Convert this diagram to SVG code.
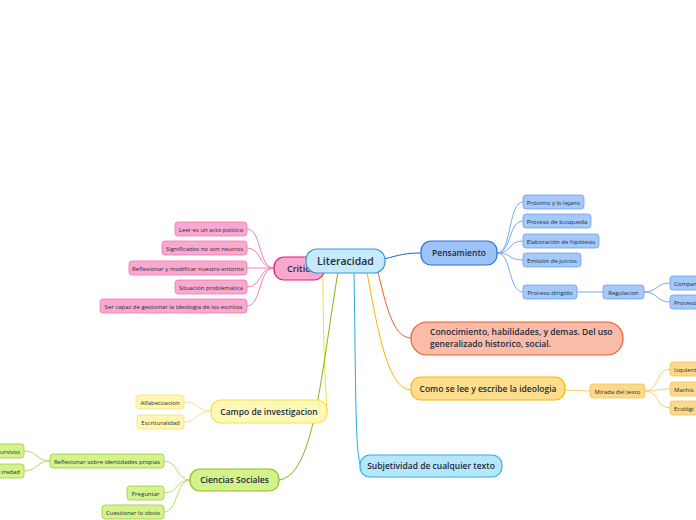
<svg xmlns="http://www.w3.org/2000/svg" width="696" height="520" viewBox="0 0 696 520">
<style>
text{font-family:"Open Sans","Noto Sans",sans-serif;fill:#1d2b3a}
.leaf{font-size:6px}
.mid{font-size:8.5px;font-weight:600}
.c{fill:none;stroke-width:1}
.pk{fill:#f9a9cf;stroke:#f07aaf;stroke-width:0.8}
.bl{fill:#a5c9f8;stroke:#6d9ff0;stroke-width:0.8}
.ye{fill:#fcd98a;stroke:#f4c35b;stroke-width:0.8}
.ly{fill:#fff6b3;stroke:#f2e27a;stroke-width:0.8}
.gr{fill:#d5f38c;stroke:#9ccc3a;stroke-width:0.8}
</style>
<rect width="696" height="520" fill="#ffffff"/>
<g id="connectors">
<path class="c" stroke="#1a5fc7" stroke-width="1.5" d="M384,259 C400,255 405,253 421,253"/>
<path class="c" stroke="#e8602c" stroke-width="1.5" d="M378,272 C388,315 395,338 412,338"/>
<path class="c" stroke="#f5b400" stroke-width="1.5" d="M367,272 C380,345 390,390 412,390"/>
<path class="c" stroke="#2aa8e8" stroke-width="1.5" d="M354,272 C356,390 355,466 362,466"/>
<path class="c" stroke="#f2df35" stroke-width="1.5" d="M323,272 C323,350 326,395 327,411"/>
<path class="c" stroke="#7fb514" stroke-width="1.5" d="M338,272 C320,380 314,475 279,480"/>
<g stroke="#f77fb5">
<path class="c" d="M274,268 C258,268 262,229 247,229"/>
<path class="c" d="M274,268 C258,268 262,248 247,248"/>
<path class="c" d="M274,268 C260,268 260,268 247,268"/>
<path class="c" d="M274,268 C258,268 262,287 247,287"/>
<path class="c" d="M274,268 C258,268 262,306 247,306"/>
</g>
<g stroke="#7aa9ee">
<path class="c" d="M497,253 C512,253 508,202 523,202"/>
<path class="c" d="M497,253 C512,253 508,221 523,221"/>
<path class="c" d="M497,253 C512,253 508,241 523,241"/>
<path class="c" d="M497,253 C512,253 508,260 523,260"/>
<path class="c" d="M497,253 C512,253 508,292 523,292"/>
<path class="c" d="M577,292 L603,292"/>
<path class="c" d="M644,292 C658,292 656,283 670,283"/>
<path class="c" d="M644,292 C658,292 656,302 670,302"/>
</g>
<g stroke="#f8cd68">
<path class="c" d="M565,390 L590,391"/>
<path class="c" d="M645,391 C659,391 656,369 670,369"/>
<path class="c" d="M645,391 C659,391 656,389 670,389"/>
<path class="c" d="M645,391 C659,391 656,408 670,408"/>
</g>
<g stroke="#f3e48a">
<path class="c" d="M211,411 C197,411 198,402 184,402"/>
<path class="c" d="M211,411 C197,411 198,422 184,422"/>
</g>
<g stroke="#b5dc6a">
<path class="c" d="M190,480 C176,480 178,461 164,461"/>
<path class="c" d="M190,480 C176,480 178,493 164,493"/>
<path class="c" d="M190,480 C176,480 178,512 164,512"/>
<path class="c" d="M50,461 C36,461 38,451 24,451"/>
<path class="c" d="M50,461 C36,461 38,471 24,471"/>
</g>
</g>
<g id="critica">
<rect x="274" y="257" width="50" height="23" rx="10" fill="#f9a9cf" stroke="#e51871" stroke-width="1.2"/>
<text x="287" y="272" font-size="9" font-weight="600">Critica</text>
</g>
<g id="literacidad">
<rect x="306" y="249" width="79" height="24" rx="11" fill="#c6e9fb" stroke="#3b9ad9" stroke-width="1.2"/>
<text x="345.5" y="265" font-size="10.5" font-weight="600" text-anchor="middle">Literacidad</text>
</g>
<g id="critica-leaves">
<g id="leer"><rect class="pk" x="175" y="222" width="72" height="14" rx="3"/><text class="leaf" x="211" y="231.5" text-anchor="middle">Leer es un acto politico</text></g>
<g id="significados"><rect class="pk" x="162" y="241" width="85" height="14" rx="3"/><text class="leaf" x="204.5" y="250.5" text-anchor="middle">Significados no son neutros</text></g>
<g id="reflexionar"><rect class="pk" x="129" y="261" width="118" height="14" rx="3"/><text class="leaf" x="188" y="270.5" text-anchor="middle">Reflexionar y modificar nuestro entorno</text></g>
<g id="situacion"><rect class="pk" x="175" y="280" width="72" height="14" rx="3"/><text class="leaf" x="211" y="289.5" text-anchor="middle">Situación problemática</text></g>
<g id="ser-capaz"><rect class="pk" x="100" y="299" width="147" height="14" rx="3"/><text class="leaf" x="173.5" y="308.5" text-anchor="middle">Ser capaz de gestionar la ideologia de los escritos</text></g>
</g>
<g id="pensamiento">
<rect x="421" y="241" width="76" height="24" rx="10" fill="#9cc3f7" stroke="#2a6fd6" stroke-width="1.2"/>
<text class="mid" x="459" y="256" text-anchor="middle">Pensamiento</text>
</g>
<g id="pensamiento-leaves">
<g id="proximo"><rect class="bl" x="523" y="195" width="61" height="14" rx="3"/><text class="leaf" x="553.5" y="204.5" text-anchor="middle">Próximo y lo lejano</text></g>
<g id="busqueda"><rect class="bl" x="523" y="214" width="68" height="14" rx="3"/><text class="leaf" x="557" y="223.5" text-anchor="middle">Proceso de busqueda</text></g>
<g id="hipotesis"><rect class="bl" x="523" y="234" width="76" height="14" rx="3"/><text class="leaf" x="561" y="243.5" text-anchor="middle">Elaboración de hipótesis</text></g>
<g id="juicios"><rect class="bl" x="523" y="253" width="58" height="14" rx="3"/><text class="leaf" x="552" y="262.5" text-anchor="middle">Emisión de juicios</text></g>
<g id="dirigido"><rect class="bl" x="523" y="285" width="54" height="14" rx="3"/><text class="leaf" x="550" y="294.5" text-anchor="middle">Proceso dirigido</text></g>
<g id="regulacion"><rect class="bl" x="603" y="285" width="41" height="14" rx="3"/><text class="leaf" x="623.5" y="294.5" text-anchor="middle">Regulacion</text></g>
<g id="compar"><rect class="bl" x="670" y="276" width="40" height="14" rx="3"/><text class="leaf" x="674" y="285.5">Compar</text></g>
<g id="proceso2"><rect class="bl" x="670" y="295" width="40" height="14" rx="3"/><text class="leaf" x="674" y="304.5">Proceso</text></g>
</g>
<g id="conocimiento">
<rect x="411" y="322" width="212" height="33" rx="16" fill="#f8bca8" stroke="#e8602c" stroke-width="1.2"/>
<text class="mid" x="430" y="335">Conocimiento, habilidades, y demas. Del uso</text>
<text class="mid" x="430" y="347">generalizado historico, social.</text>
</g>
<g id="como">
<rect x="411" y="377" width="154" height="23" rx="10" fill="#fedd8c" stroke="#f5b800" stroke-width="1.2"/>
<text class="mid" x="488" y="392" text-anchor="middle">Como se lee y escribe la ideologia</text>
</g>
<g id="mirada-leaves">
<g id="mirada"><rect class="ye" x="590" y="384" width="55" height="14" rx="3"/><text class="leaf" x="617.5" y="393.5" text-anchor="middle">Mirada del texto</text></g>
<g id="izq"><rect class="ye" x="670" y="362" width="40" height="14" rx="3"/><text class="leaf" x="674" y="371.5">Izquierd</text></g>
<g id="mach"><rect class="ye" x="670" y="382" width="40" height="14" rx="3"/><text class="leaf" x="674" y="391.5">Machis</text></g>
<g id="eco"><rect class="ye" x="670" y="401" width="40" height="14" rx="3"/><text class="leaf" x="674" y="410.5">Ecológi</text></g>
</g>
<g id="subjetividad">
<rect x="360" y="455" width="142" height="22" rx="10" fill="#b6e6fb" stroke="#2ab0ea" stroke-width="1.2"/>
<text class="mid" x="431" y="469" text-anchor="middle">Subjetividad de cualquier texto</text>
</g>
<g id="campo">
<rect x="211" y="400" width="116" height="23" rx="10" fill="#fff8b8" stroke="#f3e04a" stroke-width="1.2"/>
<text class="mid" x="269" y="415" text-anchor="middle">Campo de investigacion</text>
</g>
<g id="campo-leaves">
<g id="alfabetizacion"><rect class="ly" x="136" y="395" width="48" height="14" rx="3"/><text class="leaf" x="160" y="404.5" text-anchor="middle">Alfabetizacion</text></g>
<g id="escrituralidad"><rect class="ly" x="137" y="415" width="47" height="14" rx="3"/><text class="leaf" x="160.5" y="424.5" text-anchor="middle">Escrituralidad</text></g>
</g>
<g id="ciencias">
<rect x="190" y="469" width="89" height="22" rx="10" fill="#d4f28a" stroke="#8ac017" stroke-width="1.2"/>
<text class="mid" x="234.5" y="483" text-anchor="middle">Ciencias Sociales</text>
</g>
<g id="ciencias-leaves">
<g id="identidades"><rect class="gr" x="50" y="454" width="114" height="14" rx="3"/><text class="leaf" x="107" y="463.5" text-anchor="middle">Reflexionar sobre identidades propias</text></g>
<g id="preguntar"><rect class="gr" x="127" y="486" width="37" height="14" rx="3"/><text class="leaf" x="145.5" y="495.5" text-anchor="middle">Preguntar</text></g>
<g id="cuestionar"><rect class="gr" x="102" y="505" width="62" height="14" rx="3"/><text class="leaf" x="133" y="514.5" text-anchor="middle">Cuestionar lo obvio</text></g>
<g id="ursivos"><rect class="gr" x="-20" y="444" width="44" height="14" rx="3"/><text class="leaf" x="20" y="453.5" text-anchor="end">ursivos</text></g>
<g id="tredad"><rect class="gr" x="-20" y="464" width="44" height="14" rx="3"/><text class="leaf" x="20" y="473.5" text-anchor="end">tredad</text></g>
</g>
</svg>
